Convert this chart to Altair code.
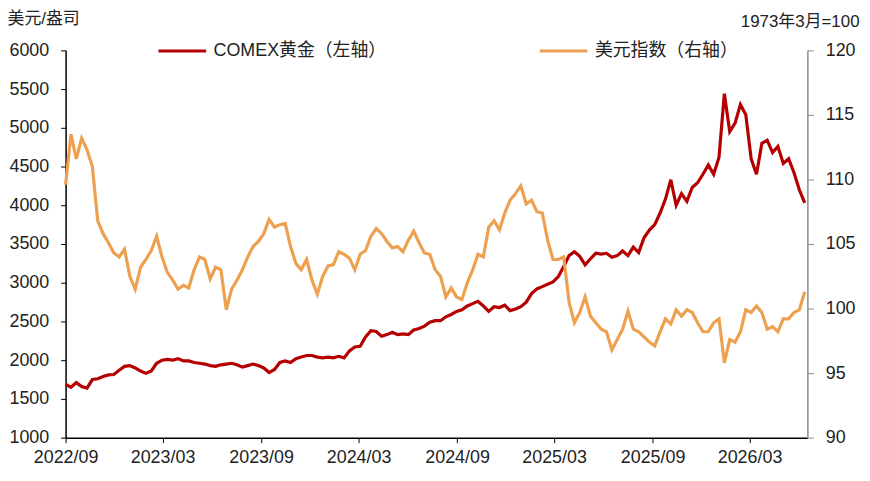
import pandas as pd
import altair as alt

FONT = "Liberation Sans, Arial, Noto Sans CJK SC, sans-serif"

# sampled every 10 days from 2022-09-01
dates = pd.date_range("2022-09-01", periods=139, freq="10D")

gold = [
    1690, 1650, 1710, 1660, 1640, 1750, 1760, 1790, 1810, 1815,
    1870, 1920, 1930, 1900, 1860, 1830, 1860, 1960, 2000, 2010,
    2000, 2020, 1990, 1990, 1970, 1960, 1950, 1930, 1920, 1940,
    1950, 1960, 1940, 1910, 1930, 1950, 1930, 1900, 1840, 1880,
    1970, 1990, 1970, 2020, 2040, 2060, 2060, 2040, 2030, 2040,
    2030, 2050, 2030, 2120, 2170, 2180, 2300, 2380, 2370, 2310,
    2330, 2360, 2330, 2340, 2330, 2390, 2410, 2440, 2490, 2510,
    2510, 2560, 2590, 2630, 2650, 2700, 2730, 2760, 2700, 2630,
    2690, 2680, 2710, 2640, 2660, 2690, 2750, 2860, 2920, 2950,
    2980, 3010, 3080, 3210, 3350, 3400, 3340, 3230, 3310, 3380,
    3370, 3380, 3330, 3350, 3410, 3350, 3460, 3390, 3580, 3680,
    3750, 3900, 4080, 4330, 4000, 4150, 4050, 4230, 4290, 4400,
    4520, 4400, 4620, 5440, 4950, 5060, 5300, 5170, 4600, 4400,
    4800, 4840, 4680, 4760, 4540, 4600, 4420, 4200, 4030,
]

dxy = [
    109.6, 113.5, 111.6, 113.2, 112.3, 111.0, 106.8, 105.8, 105.1, 104.3,
    104.0, 104.6, 102.5, 101.5, 103.2, 103.8, 104.5, 105.6, 104.0, 102.8,
    102.2, 101.5, 101.8, 101.6, 103.0, 104.0, 103.8, 102.3, 103.2, 103.0,
    99.9, 101.5, 102.2, 103.0, 104.0, 104.8, 105.2, 105.8, 106.9, 106.3,
    106.5, 106.6, 104.8, 103.5, 103.0, 103.8, 102.2, 101.1, 102.5, 103.3,
    103.4, 104.4, 104.2, 103.9, 103.0, 104.2, 104.5, 105.6, 106.2, 105.8,
    105.2, 104.7, 104.8, 104.4, 105.3, 106.0, 105.1, 104.3, 104.2, 103.0,
    102.5, 100.9, 101.6, 100.9, 100.7, 102.0, 103.0, 104.2, 104.0, 106.3,
    106.8, 106.1, 107.4, 108.4, 108.9, 109.5, 108.1, 108.4, 107.5, 107.4,
    105.3, 103.8, 103.8, 104.0, 100.5, 98.9, 99.7, 100.9, 99.4, 98.9,
    98.4, 98.2, 96.8, 97.6, 98.4, 99.8, 98.4, 98.2, 97.8, 97.4,
    97.1, 98.2, 99.2, 98.8, 99.9, 99.4, 99.9, 99.7, 98.9, 98.2,
    98.2, 98.9, 99.2, 95.8, 97.6, 97.4, 98.2, 99.9, 99.7, 100.2,
    99.7, 98.4, 98.6, 98.2, 99.2, 99.2, 99.7, 99.9, 101.3,
]

gold_name = "COMEX黄金（左轴）"
dxy_name = "美元指数（右轴）"
tick_months = [(2022, 9), (2023, 3), (2023, 9), (2024, 3),
               (2024, 9), (2025, 3), (2025, 9), (2026, 3)]
left_ticks = list(range(1000, 6001, 500))
right_ticks = [90, 95, 100, 105, 110, 115, 120]

df_gold = pd.DataFrame({"date": dates, "value": gold, "series": gold_name})
df_dxy = pd.DataFrame({"date": dates, "value": dxy, "series": dxy_name})

color_scale = alt.Scale(domain=[gold_name, dxy_name], range=["#B40000", "#EDA04F"])

x_enc = alt.X(
    "date:T",
    scale=alt.Scale(domain=[alt.DateTime(year=2022, month=9, date=1),
                            alt.DateTime(year=2026, month=6, date=17)]),
    axis=alt.Axis(
        values=[alt.DateTime(year=y, month=m, date=1) for y, m in tick_months],
        format="%Y/%m", title=None, grid=False,
        domainColor="#000000", tickColor="#000000", tickSize=5, labelPadding=6,
        labelFlush=False, labelOverlap=False),
)

legend = alt.Legend(
    orient="none", legendX=92, legendY=-25, direction="horizontal", title=None,
    symbolType="stroke", symbolSize=2304, symbolStrokeWidth=3,
    labelFontSize=18, labelFont=FONT, labelColor="#222222", labelOffset=6,
    columnPadding=147, labelLimit=400,
)

gold_line = alt.Chart(df_gold).mark_line(strokeWidth=3.2).encode(
    x=x_enc,
    y=alt.Y("value:Q", scale=alt.Scale(domain=[1000, 6000], nice=False),
            axis=alt.Axis(values=left_ticks, format="d", grid=False, title="美元/盎司",
                          titleAngle=0, titleX=-59, titleY=-32, titleAlign="left",
                          titleBaseline="middle", domainColor="#000000",
                          tickColor="#000000", tickSize=5, labelPadding=12)),
    color=alt.Color("series:N", scale=color_scale, legend=legend),
)

dxy_line = alt.Chart(df_dxy).mark_line(strokeWidth=3.2).encode(
    x=x_enc,
    y=alt.Y("value:Q", scale=alt.Scale(domain=[90, 120], nice=False),
            axis=alt.Axis(values=right_ticks, format="d", grid=False, orient="right",
                          title="1973年3月=100", titleAngle=0, titleX=52, titleY=-29,
                          titleAlign="right", titleBaseline="middle",
                          domainColor="#8C8C8C", tickColor="#8C8C8C", tickSize=6,
                          labelPadding=12)),
    color=alt.Color("series:N", scale=color_scale, legend=legend),
)

chart = alt.layer(gold_line, dxy_line).resolve_scale(y="independent").properties(
    width=747, height=390,
    autosize=alt.AutoSizeParams(type="none"),
    padding={"left": 58, "top": 41, "right": 55, "bottom": 40},
    background="#FFFFFF",
).configure_view(stroke=None).configure_axis(
    labelFont=FONT, labelFontSize=18, labelColor="#222222",
    titleFont=FONT, titleFontSize=17, titleFontWeight="normal", titleColor="#222222",
    domainWidth=1.5,
)

chart.save("out.html", embed_options={"renderer": "svg", "actions": False})
